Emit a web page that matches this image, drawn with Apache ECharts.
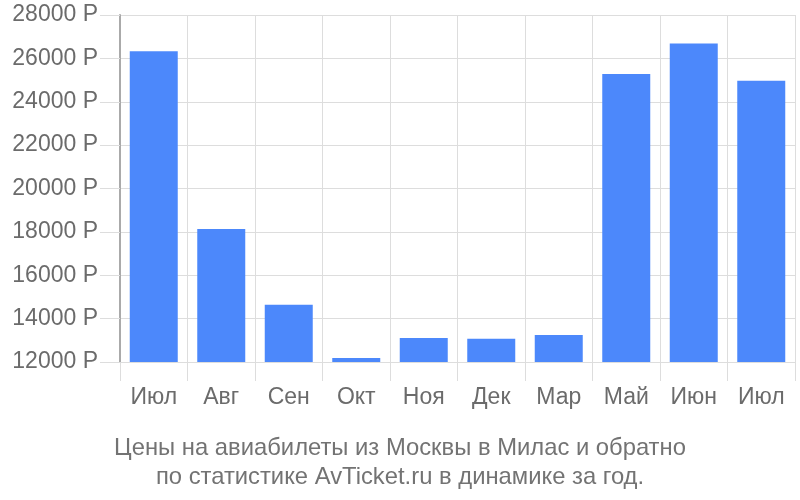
<!DOCTYPE html>
<html><head><meta charset="utf-8">
<script src="https://cdn.jsdelivr.net/npm/echarts@6/dist/echarts.min.js"></script>
<style>html,body{margin:0;padding:0;background:#fff}#c{width:800px;height:500px}</style>
</head><body><div id="c"></div>
<script>
const categories = ['Июл','Авг','Сен','Окт','Ноя','Дек','Мар','Май','Июн','Июл'];
const prices = [26330, 18130, 14640, 12190, 13110, 13070, 13240, 25280, 26690, 24970];
const yTicks = {min: 12000, max: 28000, step: 2000};
const titleLines = ['Цены на авиабилеты из Москвы в Милас и обратно','по статистике AvTicket.ru в динамике за год.'];

const chart = echarts.init(document.getElementById('c'), null, {renderer:'canvas'});
const font = 'Liberation Sans, Arial, sans-serif';
chart.setOption({
  animation:false,
  title:{text: titleLines.join('\n'), left:'center', top:429,
    textStyle:{fontFamily:font, fontSize:23.8, fontWeight:'normal', color:'#737373', lineHeight:29}},
  grid:{left:120, right:5, top:15, bottom:138, containLabel:false},
  xAxis:{type:'category', data:categories,
    axisLine:{show:false},
    axisTick:{show:true, length:19, lineStyle:{color:'#dddddd'}},
    splitLine:{show:true, lineStyle:{color:'#dddddd'}},
    axisLabel:{fontFamily:font, fontSize:23, color:'#6b6b6b', margin:24}},
  yAxis:{type:'value', min:yTicks.min, max:yTicks.max, interval:yTicks.step,
    axisLine:{show:true, lineStyle:{color:'#aaaaaa', width:2}},
    axisTick:{show:true, length:20, lineStyle:{color:'#dddddd'}},
    splitLine:{show:true, lineStyle:{color:'#dddddd'}},
    axisLabel:{fontFamily:font, fontSize:23, color:'#6b6b6b', margin:22, formatter: v => v + ' Р'}},
  series:[{type:'bar', data:prices, barWidth:48,
    itemStyle:{color:'#4c88fb'}}]
});
</script></body></html>
